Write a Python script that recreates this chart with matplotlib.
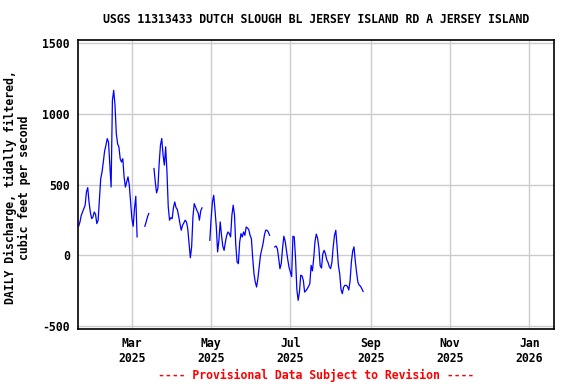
import numpy as np
import pandas as pd
import matplotlib
matplotlib.use("Agg")
import matplotlib.pyplot as plt

# daily tidally filtered discharge (cfs), starting 2025-01-19; None = missing day
start_date = "2025-01-19"
discharge = [
    205, 235, 282, 306, 330, 353, 447, 478, 376, 306,
    259, 270, 306, 290, 224, 247, 388, 541, 588, 659,
    737, 776, 824, 800, 647, 482, 1094, 1165, 1059, 859,
    788, 765, 682, 659, 682, 553, 482, 519, 554, 495,
    377, 259, 205, 330, 417, 130, None, None, None, None,
    None, 205, 236, 271, 295, None, None, None, 613, 519,
    441, 472, 648, 778, 825, 707, 637, 766, 590, 342,
    248, 266, 259, 337, 377, 337, 323, 276, 224, 177,
    212, 229, 248, 236, 189, 83, -17, 59, 271, 365,
    342, 318, 300, 248, 314, 335, None, None, None, None,
    None, 106, 260, 377, 424, 318, 200, 24, 106, 236,
    141, 64, 35, 94, 141, 165, 153, 130, 283, 354,
    283, 71, -47, -59, 94, 153, 130, 165, 141, 200,
    193, 181, 141, 118, -17, -130, -189, -224, -165, -83,
    0, 42, 83, 141, 177, 177, 165, 141, None, None,
    None, 59, 66, 47, -20, -95, -59, 50, 135, 100,
    35, -30, -85, -118, -150, 135, 130, -20, -240, -318,
    -260, -140, -145, -177, -260, -250, -236, -220, -200, -71,
    -110, -20, 100, 150, 120, 50, -75, -90, 10, 35,
    12, -30, -50, -80, -94, -50, 60, 141, 177, 60,
    -71, -130, -240, -271, -225, -212, -212, -220, -245, -180,
    -47, 30, 60, -40, -120, -190, -210, -218, -235, -255,
]

tick_dates = ["2025-03-01", "2025-05-01", "2025-07-01", "2025-09-01", "2025-11-01", "2026-01-01"]
tick_labels = ["Mar\n2025", "May\n2025", "Jul\n2025", "Sep\n2025", "Nov\n2025", "Jan\n2026"]
y_ticks = [-500, 0, 500, 1000, 1500]

title = "USGS 11313433 DUTCH SLOUGH BL JERSEY ISLAND RD A JERSEY ISLAND"
ylabel = "DAILY Discharge, tidally filtered,\ncubic feet per second"
footer = "---- Provisional Data Subject to Revision ----"

dates = pd.date_range(start_date, periods=len(discharge), freq="D")
values = np.array([np.nan if v is None else v for v in discharge], dtype=float)

plt.rcParams["font.family"] = ["DejaVu Sans Mono"]
plt.rcParams["font.weight"] = "bold"
fs = 8.3

fig = plt.figure(figsize=(5.76, 3.84), dpi=100)
ax = fig.add_axes([0.1354, 0.143, 0.8264, 0.753])

ax.plot(dates, values, color="#0000ff", linewidth=0.9)

ax.set_xlim(pd.Timestamp("2025-01-18 12:00"), pd.Timestamp("2026-01-20"))
ax.set_ylim(-521, 1521)
ax.set_xticks(pd.to_datetime(tick_dates))
ax.set_xticklabels(tick_labels, fontsize=fs, fontweight="bold")
ax.set_yticks(y_ticks)
ax.set_yticklabels([str(t) for t in y_ticks], fontsize=fs, fontweight="bold")
ax.tick_params(length=0, pad=6)
ax.grid(True, color="#cccccc", linewidth=1)
ax.set_axisbelow(True)
for s in ax.spines.values():
    s.set_linewidth(1.2)

ax.set_ylabel(ylabel, fontsize=fs, fontweight="bold", linespacing=1.05)
ax.yaxis.set_label_coords(-0.099, 0.49)
fig.text(0.548, 0.948, title, ha="center", va="center", fontsize=fs, fontweight="bold")
fig.text(0.548, 0.023, footer, ha="center", va="center", fontsize=fs,
         fontweight="bold", color="red")

fig.savefig("out.png", dpi=100)
